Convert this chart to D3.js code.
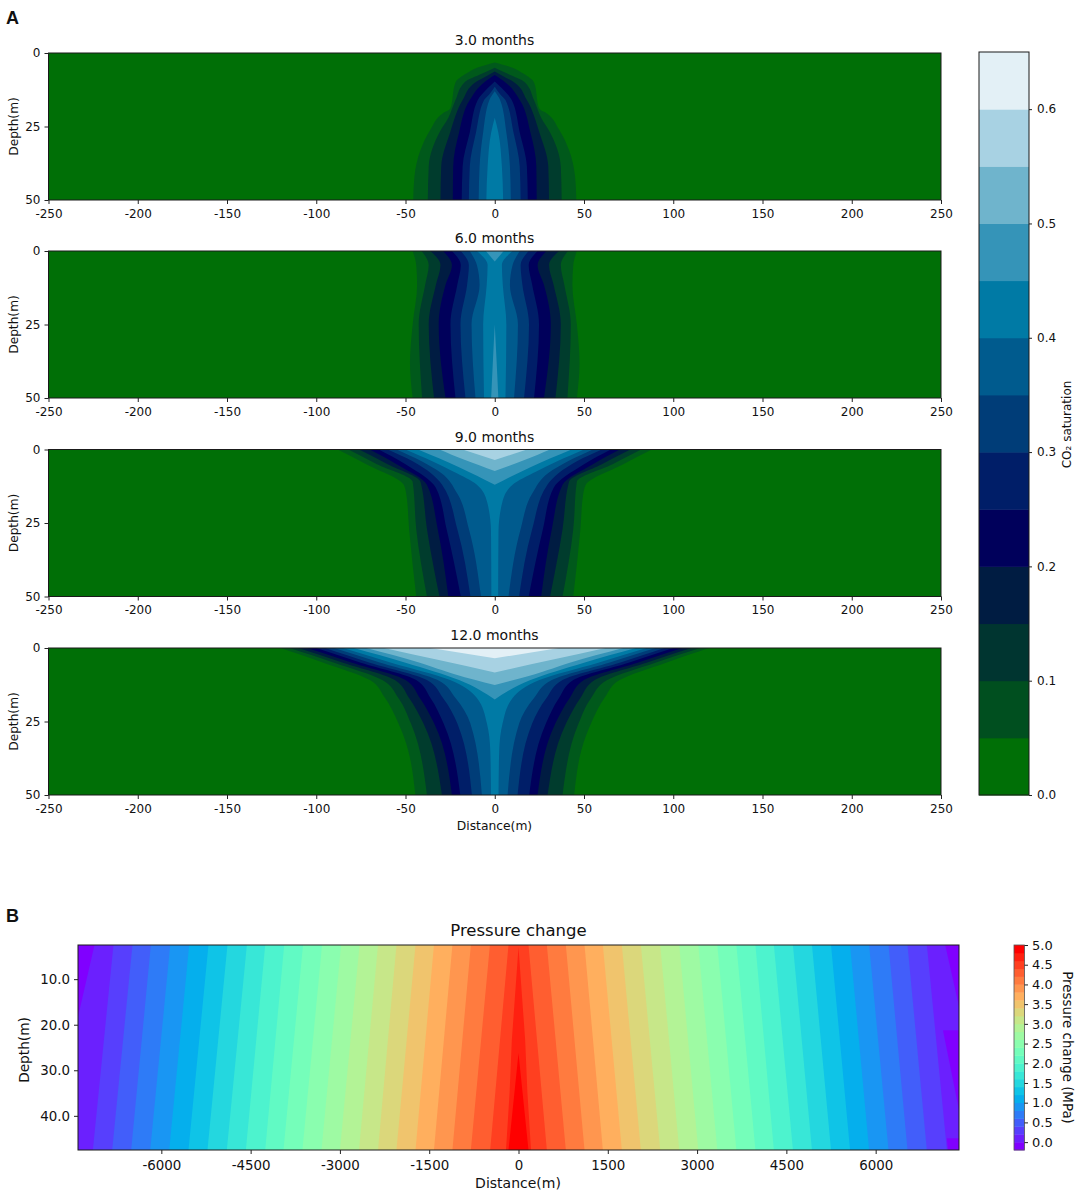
<!DOCTYPE html>
<html><head><meta charset="utf-8">
<script src="https://cdn.jsdelivr.net/npm/d3@7/dist/d3.min.js"></script>
<style>html,body{margin:0;padding:0;background:#fff}svg{display:block}text{font-family:"DejaVu Sans",sans-serif;fill:#111}</style>
</head><body><svg id="c" width="1084" height="1201"></svg>
<script>
// ---- Panel A data: contour half-widths [depth, half-width] per saturation level ----
const saturationLevels = [0,0.05,0.1,0.15,0.2,0.25,0.3,0.35,0.4,0.45,0.5,0.55,0.6,0.65];
const saturationColors = ["#006f06","#004f1f","#003530","#001c42","#00005b","#001e68","#003d78","#005b8e","#007aa5","#3594b8","#6fb4cc","#a8d2e3","#e3f0f6"];
const contourColors = ["#006f06","#00591b","#003c2d","#001c42","#00005b","#001e68","#003d78","#005b8e","#007aa5","#3594b8","#6fb4cc","#a8d2e3","#e3f0f6"];
const saturationTicks = [0,0.1,0.2,0.3,0.4,0.5,0.6];
const distanceTicks = [-250,-200,-150,-100,-50,0,50,100,150,200,250];
const depthTicks = [0,25,50];
const panelTitles = ["3.0 months","6.0 months","9.0 months","12.0 months"];
const plume3 = [
 [0.05,[[3.2,0],[5,10],[7,16],[10,22],[19,25],[20.5,29],[26,36],[33,41.6],[42,45],[50,45.7]]],
 [0.1,[[5,0],[7,7],[10,17],[16,22],[22,26],[27,31],[38.6,37],[50,37.5]]],
 [0.15,[[6.3,0],[8,5],[10,11],[16,18],[27,25],[38.6,30],[50,30.4]]],
 [0.2,[[7.5,0],[10,6],[16,14],[27,20],[38.6,23.3],[50,23.5]]],
 [0.25,[[9.7,0],[12,4],[16,9.5],[27,14],[38.6,18],[50,18.5]]],
 [0.3,[[11.5,0],[14,3],[16,6],[27,10.5],[38.6,14],[50,14.5]]],
 [0.35,[[13,0],[16,3],[27,6.5],[38.6,8.5],[50,9]]],
 [0.4,[[22,0],[27,2],[38.6,4],[50,4.7]]]
];
const plume6 = [
 [0.05,[[0,46],[4.8,44],[11.6,43.5],[25,46],[38,47.5],[50,46]]],
 [0.1,[[0,41],[4.8,37],[11.6,39],[25,42.6],[50,40.7]]],
 [0.15,[[0,36],[4.8,30.4],[11.6,33],[25,37],[50,34]]],
 [0.2,[[0,29],[4.8,24],[11.6,27.6],[25,31.4],[50,27.6]]],
 [0.25,[[0,24],[4.8,19],[11.6,21],[25,24.8],[50,22]]],
 [0.3,[[0,19],[4.8,14.5],[11.6,15.5],[25,19.2],[50,16.4]]],
 [0.35,[[0,14],[4.8,10],[11.6,8.5],[25,13],[50,10.8]]],
 [0.4,[[0,10],[4.8,4],[11.6,4.5],[25,6.5],[50,6]]],
 [0.45,[[0,5],[3.6,0]]],
 [0.45,[[25,0],[37,1],[50,2]]]
];
const plume9 = [
 [0.05,[[0,88],[5,72],[12,51],[15.5,49.5],[27,48],[50,44]]],
 [0.1,[[0,82],[5,66],[11,46],[27,44],[50,38]]],
 [0.15,[[0,76],[5,60],[11,41.6],[27,38],[50,31]]],
 [0.2,[[0,70],[5,55],[12,38],[27,32],[50,26]]],
 [0.25,[[0,65],[5,50],[13,33],[27,27],[50,19]]],
 [0.3,[[0,60],[4,46],[12,29.5],[27,21],[50,13.6]]],
 [0.35,[[0,55],[4,41],[8,30],[15,21],[27,14.5],[50,7.7]]],
 [0.4,[[0,50],[4,35],[7.6,23],[12,10],[17.8,4.3],[28,2.1],[50,1.9]]],
 [0.45,[[0,43],[6,20],[12,0]]],
 [0.5,[[0,31],[3.5,17],[7.3,0]]],
 [0.55,[[0,18],[3.6,0]]]
];
const plume12 = [
 [0.05,[[0,120],[5,96],[10.9,70],[16.5,62],[25.6,54],[30,51],[50,44.5]]],
 [0.1,[[0,115],[5,90],[10.9,63],[17,54],[25.6,47],[50,38]]],
 [0.15,[[0,110],[5,85],[10.9,56],[17,48],[25.6,40],[50,29.6]]],
 [0.2,[[0,105],[5,80],[10.9,50],[17,42],[25.6,34],[50,24]]],
 [0.25,[[0,100],[5,75],[10.9,44],[17,36],[25.6,28.7],[50,19.3]]],
 [0.3,[[0,95],[5,70],[10.9,38],[17,29],[25.6,21],[50,12.8]]],
 [0.35,[[0,90],[5,64],[10.9,32],[17,22],[25.6,13.7],[50,7.2]]],
 [0.4,[[0,85],[5,58],[10.9,25],[17,10],[25.6,4.4],[35,2.5],[50,2.1]]],
 [0.45,[[0,79],[5,50],[10.9,20],[17.5,0]]],
 [0.5,[[0,72],[5,42],[9,22],[12.6,0]]],
 [0.55,[[0,62],[4,32],[8.3,0]]],
 [0.6,[[0,36],[3.5,0]]]
];
const plumes = [plume3,plume6,plume9,plume12];

// ---- Panel B data: pressure contours, distance from well at top/bottom of section ----
const pressureLevels = [4.4,4.2,4.0,3.8,3.6,3.4,3.2,3.0,2.8,2.6,2.4,2.2,2.0,1.8,1.6,1.4,1.2,1.0,0.8,0.6,0.4,0.2];
const topLeft =     [168,480,800,1110,1420,1730,2050,2360,2670,2980,3300,3620,3936,4255,4563,4889,5208,5532,5851,6176,6485,6804];
const bottomLeft =  [476,800,1110,1420,1730,2050,2360,2680,3000,3310,3630,3948,4255,4580,4900,5225,5544,5868,6187,6507,6826,7150];
const topRight =    [168,476,795,1109,1417,1736,2055,2380,2700,3020,3340,3660,3980,4290,4610,4930,5250,5570,5890,6216,6535,6860];
const bottomRight = [476,795,1109,1417,1736,2055,2380,2700,3020,3340,3660,3980,4290,4610,4930,5250,5570,5890,6216,6535,6860,7197];
const zeroLevelLeft = [[2.5,7123],[18.3,7400],[47.5,7400]];
const zeroLevelRight = [[2.5,7168],[16,7400],[21.2,7400],[21.2,7130],[38.7,7400],[44.9,7400],[44.9,7195],[47.5,7215]];
const spike46 = [[3,0],[23.4,112],[35,150],[47.5,210]];
const spike48 = [[26.2,0],[47.5,168]];
const pressureTicksX = [-6000,-4500,-3000,-1500,0,1500,3000,4500,6000];
const pressureTicksY = [10,20,30,40];
const pressureBarTicks = [0,0.5,1,1.5,2,2.5,3,3.5,4,4.5,5];
const pressureBands = [-0.2,0,0.2,0.4,0.6,0.8,1,1.2,1.4,1.6,1.8,2,2.2,2.4,2.6,2.8,3,3.2,3.4,3.6,3.8,4,4.2,4.4,4.6,4.8,5];

const svg = d3.select("#c");
const clipId = (()=>{let n=0;return ()=>"clip"+(n++);})();

function styleAxis(g,size){
  g.selectAll("path.domain").remove();
  g.selectAll("line").attr("stroke","#222").attr("stroke-width",1);
  g.selectAll("text").attr("font-size",size).attr("fill","#111");
}
function frame(x0,y0,w,h){
  svg.append("rect").attr("x",x0).attr("y",y0).attr("width",w).attr("height",h)
    .attr("fill","none").attr("stroke","#1a1a1a").attr("stroke-width",1);
}
function label(x,y,t,size,opts={}){
  const s=svg.append("text").attr("font-size",size).attr("text-anchor",opts.anchor||"middle").text(t);
  if(opts.rot) s.attr("transform",`translate(${x},${y}) rotate(${opts.rot})`);
  else s.attr("x",x).attr("y",y);
  if(opts.family) s.style("font-family",opts.family).attr("font-weight","bold");
  return s;
}

// ---- Panel A ----
const x0=48.5, x1=941, panelTops=[53,251,449.5,648], panelH=147;
const xA=d3.scaleLinear().domain([-250,250]).range([x0,x1]);
const satIdx=d3.scaleThreshold().domain(saturationLevels.slice(1,-1)).range(contourColors);
plumes.forEach((plume,i)=>{
  const top=panelTops[i];
  const yA=d3.scaleLinear().domain([0,50]).range([top,top+panelH]);
  const id=clipId();
  svg.append("clipPath").attr("id",id).append("rect").attr("x",x0).attr("y",top).attr("width",x1-x0).attr("height",panelH);
  const g=svg.append("g").attr("clip-path",`url(#${id})`);
  g.append("rect").attr("x",x0).attr("y",top).attr("width",x1-x0).attr("height",panelH).attr("fill",contourColors[0]);
  const path=d3.line().curve(d3.curveMonotoneY).x(p=>xA(p[0])).y(p=>yA(p[1]));
  plume.forEach(([lvl,pts])=>{
    const right=pts.map(p=>[p[1],p[0]]);
    const left=pts.slice().reverse().map(p=>[-p[1],p[0]]);
    g.append("path").attr("d",path(right)+"L"+path(left).slice(1)+"Z").attr("fill",satIdx(lvl+0.001));
  });
  frame(x0,top,x1-x0,panelH);
  const ax=svg.append("g").attr("transform",`translate(0,${top+panelH})`)
    .call(d3.axisBottom(xA).tickValues(distanceTicks).tickSize(4).tickPadding(5).tickFormat(d=>String(d)));
  styleAxis(ax,12);
  const ay=svg.append("g").attr("transform",`translate(${x0},0)`)
    .call(d3.axisLeft(yA).tickValues(depthTicks).tickSize(4).tickPadding(4).tickFormat(d=>String(d)));
  styleAxis(ay,12);
  label(494.5,top-8,panelTitles[i],14);
  label(18,top+panelH/2,"Depth(m)",12.2,{rot:-90});
});
label(494.5,830,"Distance(m)",12.3);

// saturation colour bar
const barY=d3.scaleLinear().domain([0,0.65]).range([795,52]);
saturationColors.forEach((c,i)=>{
  svg.append("rect").attr("x",979).attr("width",50)
    .attr("y",barY(saturationLevels[i+1])).attr("height",barY(saturationLevels[i])-barY(saturationLevels[i+1])+0.5).attr("fill",c);
});
frame(979,52,50,743);
const barAx=svg.append("g").attr("transform","translate(1029,0)")
  .call(d3.axisRight(barY).tickValues(saturationTicks).tickSize(3).tickPadding(5).tickFormat(d3.format(".1f")));
styleAxis(barAx,12);
label(1071,424.5,"CO₂ saturation",12,{rot:-90});

label(6,24,"A",18,{anchor:"start",family:'"Liberation Sans",Arial,sans-serif'});
label(6,922,"B",18,{anchor:"start",family:'"Liberation Sans",Arial,sans-serif'});

// ---- Panel B ----
const bx0=78,bx1=959,by0=945,by1=1150;
const xB=d3.scaleLinear().domain([-7400,7400]).range([bx0,bx1]);
const yB=d3.scaleLinear().domain([2.5,47.5]).range([by0,by1]);
const rainbow=t=>{
  const r=Math.min(1,Math.abs(2*t-0.5)),g=Math.sin(Math.PI*t),b=Math.cos(Math.PI*t/2);
  return d3.rgb(r*255,g*255,b*255).formatHex();
};
const bandColor=i=>rainbow(i/(pressureBands.length-2));
const cid=clipId();
svg.append("clipPath").attr("id",cid).append("rect").attr("x",bx0).attr("y",by0).attr("width",bx1-bx0).attr("height",by1-by0);
const gB=svg.append("g").attr("clip-path",`url(#${cid})`);
gB.append("rect").attr("x",bx0).attr("y",by0).attr("width",bx1-bx0).attr("height",by1-by0).attr("fill",bandColor(0));
const pPath=d3.line().x(p=>xB(p[0])).y(p=>yB(p[1]));
function poly(leftPts,rightPts,band){
  const pts=rightPts.map(p=>[p[1],p[0]]).concat(leftPts.slice().reverse().map(p=>[-p[1],p[0]]));
  gB.append("path").attr("d",pPath(pts)+"Z").attr("fill",bandColor(band));
}
poly(zeroLevelLeft,zeroLevelRight,1);
const bandOf=v=>Math.round((v+0.2)/0.2);
pressureLevels.map((v,i)=>[v,i]).reverse().forEach(([v,i])=>{
  poly([[2.5,topLeft[i]],[47.5,bottomLeft[i]]],[[2.5,topRight[i]],[47.5,bottomRight[i]]],bandOf(v));
});
poly(spike46,spike46,bandOf(4.6));
poly(spike48,spike48,bandOf(4.8));
frame(bx0,by0,bx1-bx0,by1-by0);
const axB=svg.append("g").attr("transform",`translate(0,${by1})`)
  .call(d3.axisBottom(xB).tickValues(pressureTicksX).tickSize(4).tickPadding(6).tickFormat(d=>String(d)));
styleAxis(axB,13.4);
const ayB=svg.append("g").attr("transform",`translate(${bx0},0)`)
  .call(d3.axisLeft(yB).tickValues(pressureTicksY).tickSize(4).tickPadding(4).tickFormat(d3.format(".1f")));
styleAxis(ayB,13.4);
label(518.5,936,"Pressure change",16.5);
label(518,1188,"Distance(m)",14);
label(29,1050,"Depth(m)",13.7,{rot:-90});

// pressure colour bar
const pBar=d3.scaleLinear().domain([-0.2,5]).range([1150,945]);
pressureBands.slice(0,-1).forEach((v,i)=>{
  svg.append("rect").attr("x",1014).attr("width",10.5)
    .attr("y",pBar(pressureBands[i+1])).attr("height",pBar(v)-pBar(pressureBands[i+1])+0.4).attr("fill",bandColor(i));
});
svg.append("rect").attr("x",1014).attr("y",945).attr("width",10.5).attr("height",205).attr("fill","none").attr("stroke","#555").attr("stroke-width",0.8);
const pAx=svg.append("g").attr("transform","translate(1024.5,0)")
  .call(d3.axisRight(pBar).tickValues(pressureBarTicks).tickSize(3.5).tickPadding(4).tickFormat(d3.format(".1f")));
styleAxis(pAx,13);
label(1063,1047.5,"Pressure change (MPa)",13.4,{rot:90});
</script></body></html>
